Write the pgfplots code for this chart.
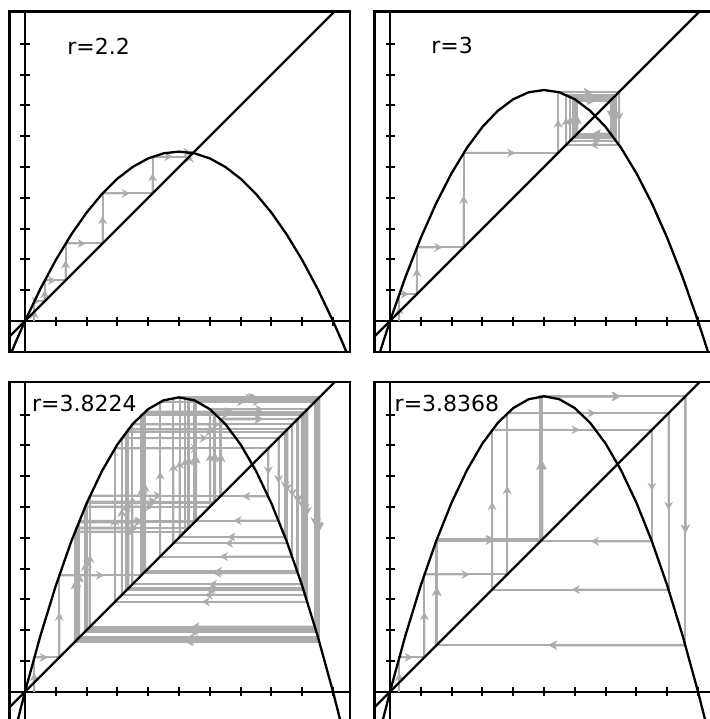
\documentclass[border=0pt]{standalone}
\usepackage{fontspec}
\setmainfont{DejaVu Sans}
\usepackage{pgfplots}
\pgfplotsset{compat=1.18}
\usetikzlibrary{calc,arrows.meta,decorations.pathreplacing}

\definecolor{cobgray}{RGB}{172,172,172}

% cobweb: gray path, an arrowhead half way along every segment
\tikzset{cob/.style={draw=cobgray, line width=1pt,
  postaction={decorate, decoration={show path construction,
    lineto code={\draw[cobgray, line width=1pt, -{Stealth[length=4.2pt,width=4.4pt]}]
      (\tikzinputsegmentfirst) -- ($(\tikzinputsegmentfirst)!0.55!(\tikzinputsegmentlast)$);}}}}}

\pgfplotsset{cobaxis/.style={
  x=154pt, y=154pt,
  xmin=-0.05, xmax=1.055, ymin=-0.1, ymax=1.005,
  axis lines=middle, axis line style={-, line width=1.15pt},
  xtick={0.1,0.2,0.3,0.4,0.5,0.6,0.7,0.8,0.9,1.0},
  ytick={0.1,0.2,0.3,0.4,0.5,0.6,0.7,0.8,0.9},
  xticklabels={}, yticklabels={},
  tick align=center, major tick length=4.5pt,
  tick style={black, line width=1pt},
  clip mode=individual,
  anchor=origin,
  after end axis/.code={\draw[line width=1.15pt] (rel axis cs:0,0) rectangle (rel axis cs:1,1);},
}}

\pgfplotstableread{
x y
-0.06 -0.13992
-0.03 -0.06798
0 0
0.05 0.1045
0.10 0.198
0.15 0.2805
0.20 0.352
0.25 0.4125
0.30 0.462
0.35 0.5005
0.40 0.528
0.45 0.5445
0.50 0.55
0.55 0.5445
0.60 0.528
0.65 0.5005
0.70 0.462
0.75 0.4125
0.80 0.352
0.85 0.2805
0.90 0.198
0.95 0.1045
1.00 0
1.03 -0.06798
1.06 -0.13992
}\parA

\pgfplotstableread{
x y
-0.06 -0.1908
-0.03 -0.0927
0 0
0.05 0.1425
0.10 0.27
0.15 0.3825
0.20 0.48
0.25 0.5625
0.30 0.63
0.35 0.6825
0.40 0.72
0.45 0.7425
0.50 0.75
0.55 0.7425
0.60 0.72
0.65 0.6825
0.70 0.63
0.75 0.5625
0.80 0.48
0.85 0.3825
0.90 0.27
0.95 0.1425
1.00 0
1.03 -0.0927
1.06 -0.1908
}\parB

\pgfplotstableread{
x y
-0.06 -0.24310
-0.03 -0.11811
0 0
0.05 0.181564
0.10 0.344016
0.15 0.487356
0.20 0.611584
0.25 0.7167
0.30 0.802704
0.35 0.869596
0.40 0.917376
0.45 0.946044
0.50 0.9556
0.55 0.946044
0.60 0.917376
0.65 0.869596
0.70 0.802704
0.75 0.7167
0.80 0.611584
0.85 0.487356
0.90 0.344016
0.95 0.181564
1.00 0
1.03 -0.11811
1.06 -0.24310
}\parC

\pgfplotstableread{
x y
-0.06 -0.24402
-0.03 -0.11856
0 0
0.05 0.182248
0.10 0.345312
0.15 0.489192
0.20 0.613888
0.25 0.7194
0.30 0.805728
0.35 0.872872
0.40 0.920832
0.45 0.949608
0.50 0.9592
0.55 0.949608
0.60 0.920832
0.65 0.872872
0.70 0.805728
0.75 0.7194
0.80 0.613888
0.85 0.489192
0.90 0.345312
0.95 0.182248
1.00 0
1.03 -0.11856
1.06 -0.24402
}\parD

\begin{document}
\begin{tikzpicture}

% r = 2.2
\begin{axis}[cobaxis, at={(12.5pt,-160.5pt)}]
\addplot[cob] coordinates {(0.03,0) (0.03,0.06402) (0.06402,0.06402) (0.06402,0.131828) (0.131828,0.131828) (0.131828,0.251787) (0.251787,0.251787) (0.251787,0.414459) (0.414459,0.414459) (0.414459,0.533903) (0.533903,0.533903) (0.533903,0.547473) (0.547473,0.547473)};
\addplot[black, line width=1.15pt] coordinates {(-0.1,-0.1) (1.1,1.1)};
\addplot[black, line width=1.15pt] table {\parA};
\node[anchor=west, inner sep=0pt, font=\fontsize{11}{13}\selectfont] at (axis cs:0.136,0.893) {r=2.2};
\end{axis}

% r = 3
\begin{axis}[cobaxis, at={(195pt,-160.5pt)}]
\addplot[cob] coordinates {(0.03,0) (0.03,0.0873) (0.0873,0.0873) (0.0873,0.239036) (0.239036,0.239036) (0.239036,0.545697) (0.545697,0.545697) (0.545697,0.743736) (0.743736,0.743736) (0.743736,0.571779) (0.571779,0.571779) (0.571779,0.734544) (0.734544,0.734544) (0.734544,0.584967) (0.584967,0.584967) (0.584967,0.728342) (0.728342,0.728342) (0.728342,0.593580) (0.593580,0.593580) (0.593580,0.723729) (0.723729,0.723729) (0.723729,0.599835) (0.599835,0.599835) (0.599835,0.720099) (0.720099,0.720099) (0.720099,0.604668) (0.604668,0.604668) (0.604668,0.717135) (0.717135,0.717135) (0.717135,0.608556) (0.608556,0.608556) (0.608556,0.714648) (0.714648,0.714648)};
\addplot[black, line width=1.15pt] coordinates {(-0.1,-0.1) (1.1,1.1)};
\addplot[black, line width=1.15pt] table {\parB};
\node[anchor=west, inner sep=0pt, font=\fontsize{11}{13}\selectfont] at (axis cs:0.133,0.893) {r=3};
\end{axis}

% r = 3.8224
\begin{axis}[cobaxis, at={(12.5pt,-345.85pt)}]
\addplot[cob] coordinates {(0.03,0) (0.03,0.111232) (0.111232,0.111232) (0.111232,0.377878) (0.377878,0.377878) (0.377878,0.898593) (0.898593,0.898593) (0.898593,0.348308) (0.348308,0.348308) (0.348308,0.867643) (0.867643,0.867643) (0.867643,0.438960) (0.438960,0.438960) (0.438960,0.941362) (0.941362,0.941362) (0.941362,0.210996) (0.210996,0.210996) (0.210996,0.636342) (0.636342,0.636342) (0.636342,0.884546) (0.884546,0.884546) (0.884546,0.390363) (0.390363,0.390363) (0.390363,0.909655) (0.909655,0.909655) (0.909655,0.314136) (0.314136,0.314136) (0.314136,0.823551) (0.823551,0.823551) (0.823551,0.555452) (0.555452,0.555452) (0.555452,0.943846) (0.943846,0.943846) (0.943846,0.202587) (0.202587,0.202587) (0.202587,0.617494) (0.617494,0.617494) (0.617494,0.902832) (0.902832,0.902832) (0.902832,0.335324) (0.335324,0.335324) (0.335324,0.851945) (0.851945,0.851945) (0.851945,0.482138) (0.482138,0.482138) (0.482138,0.954381) (0.954381,0.954381) (0.954381,0.166419) (0.166419,0.166419) (0.166419,0.530258) (0.530258,0.530258) (0.530258,0.952099) (0.952099,0.952099) (0.952099,0.174325) (0.174325,0.174325) (0.174325,0.550181) (0.550181,0.550181) (0.550181,0.945975) (0.945975,0.945975) (0.945975,0.195348) (0.195348,0.195348) (0.195348,0.600832) (0.600832,0.600832) (0.600832,0.916737) (0.916737,0.916737) (0.916737,0.291764) (0.291764,0.291764) (0.291764,0.789853) (0.789853,0.789853) (0.789853,0.634461) (0.634461,0.634461) (0.634461,0.886491) (0.886491,0.886491) (0.886491,0.384629) (0.384629,0.384629) (0.384629,0.904722) (0.904722,0.904722) (0.904722,0.329491) (0.329491,0.329491) (0.329491,0.844471) (0.844471,0.844471) (0.844471,0.502034) (0.502034,0.502034) (0.502034,0.955584) (0.955584,0.955584) (0.955584,0.162234) (0.162234,0.162234) (0.162234,0.519517) (0.519517,0.519517) (0.519517,0.954144) (0.954144,0.954144) (0.954144,0.167241) (0.167241,0.167241) (0.167241,0.532350) (0.532350,0.532350) (0.532350,0.951599) (0.951599,0.951599) (0.951599,0.176052) (0.176052,0.176052) (0.176052,0.554469) (0.554469,0.554469) (0.554469,0.944259) (0.944259,0.944259) (0.944259,0.201188) (0.201188,0.201188) (0.201188,0.614302) (0.614302,0.614302) (0.614302,0.905660) (0.905660,0.905660)};
\addplot[black, line width=1.15pt] coordinates {(-0.1,-0.1) (1.1,1.1)};
\addplot[black, line width=1.15pt] table {\parC};
\node[anchor=west, inner sep=0pt, font=\fontsize{11}{13}\selectfont] at (axis cs:0.022,0.937) {r=3.8224};
\end{axis}

% r = 3.8368
\begin{axis}[cobaxis, at={(195pt,-345.85pt)}]
\addplot[cob] coordinates {(0.03,0) (0.03,0.111651) (0.111651,0.111651) (0.111651,0.380553) (0.380553,0.380553) (0.380553,0.904460) (0.904460,0.904460) (0.904460,0.331546) (0.331546,0.331546) (0.331546,0.850323) (0.850323,0.850323) (0.850323,0.488325) (0.488325,0.488325) (0.488325,0.958678) (0.958678,0.958678) (0.958678,0.151995) (0.151995,0.151995) (0.151995,0.494537) (0.494537,0.494537) (0.494537,0.959085) (0.959085,0.959085) (0.959085,0.150560) (0.150560,0.150560) (0.150560,0.490696) (0.490696,0.490696) (0.490696,0.958866) (0.958866,0.958866) (0.958866,0.151331) (0.151331,0.151331) (0.151331,0.492760) (0.492760,0.492760) (0.492760,0.959000) (0.959000,0.959000)};
\addplot[black, line width=1.15pt] coordinates {(-0.1,-0.1) (1.1,1.1)};
\addplot[black, line width=1.15pt] table {\parD};
\node[anchor=west, inner sep=0pt, font=\fontsize{11}{13}\selectfont] at (axis cs:0.014,0.937) {r=3.8368};
\end{axis}

\pgfresetboundingbox
\path[use as bounding box] (0,0) rectangle (355pt,-359.5pt);
\end{tikzpicture}
\end{document}
